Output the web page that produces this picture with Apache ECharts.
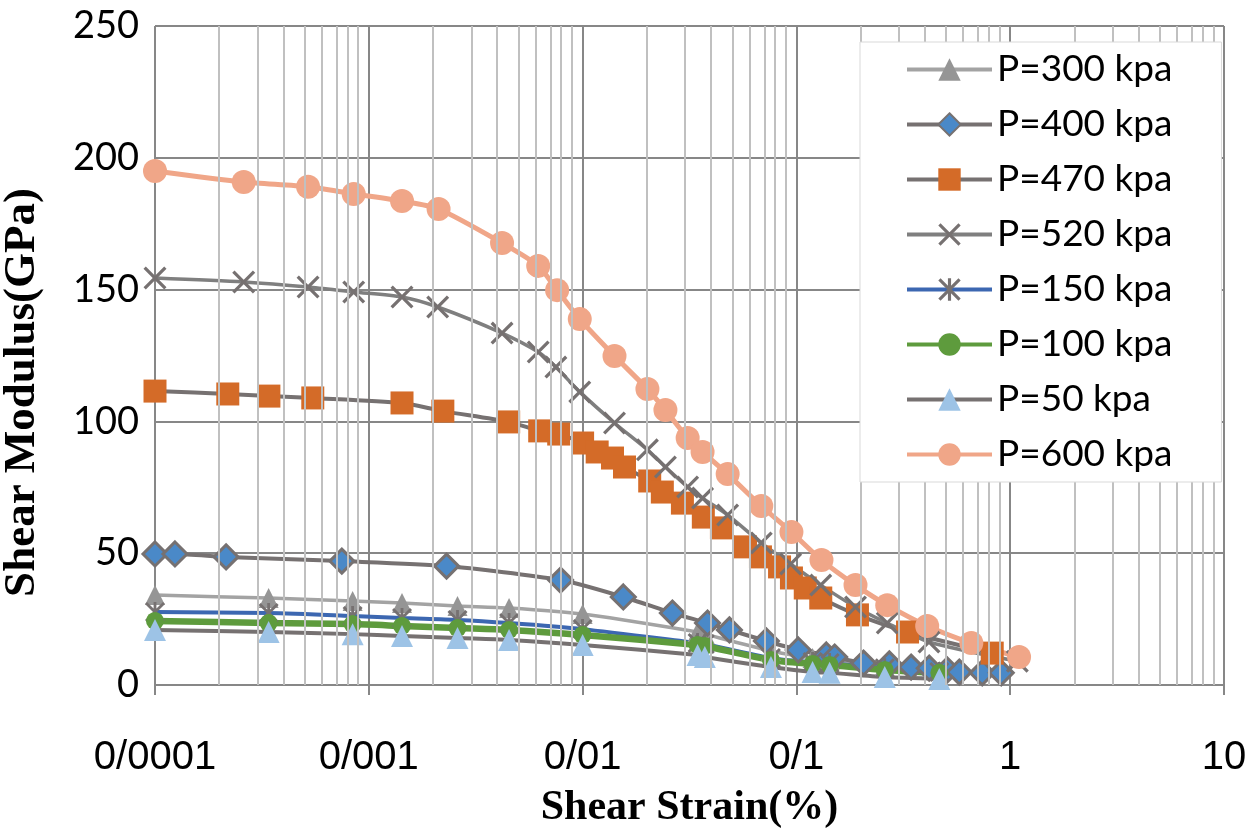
<!DOCTYPE html>
<html>
<head>
<meta charset="utf-8">
<script src="https://cdn.jsdelivr.net/npm/echarts@6/dist/echarts.min.js"></script>
<style>
  html, body { margin: 0; padding: 0; background: #fff; }
  #chart { width: 1260px; height: 829px; }
</style>
</head>
<body>
<div id="chart"></div>
<script>
// tick labels (original uses "/" as decimal separator)
var xTickLabels = ['0/0001', '0/001', '0/01', '0/1', '1', '10'];
var minorMultipliers = [2, 3, 4, 5, 6, 7, 8, 9];

// P=600
var strain600 = [0.0001, 0.00026, 0.00052, 0.00085, 0.00143, 0.00212, 0.0042, 0.0062, 0.0076, 0.0097, 0.0141, 0.0201, 0.0244, 0.031, 0.0364, 0.0477, 0.0685, 0.0948, 0.131, 0.189, 0.266, 0.409, 0.658, 1.10];
var g600 = [195, 190.8, 189, 186.3, 183.6, 180.6, 167.7, 159, 149.8, 138.8, 124.8, 112.3, 104.3, 93.7, 88.4, 80, 67.9, 58, 47.4, 37.9, 30.3, 22.4, 15.9, 10.6];

// P=520
var strain520 = [0.0001, 0.00026, 0.00052, 0.00085, 0.00143, 0.0021, 0.0042, 0.0062, 0.0075, 0.0097, 0.0141, 0.0201, 0.0244, 0.031, 0.0364, 0.0477, 0.0685, 0.094, 0.130, 0.189, 0.266, 0.417, 1.08];
var g520 = [154.4, 152.9, 151, 149.1, 147.2, 143.4, 133.5, 126.3, 120.6, 111.2, 99.4, 89.2, 82.7, 75.1, 70.9, 64.5, 53.9, 45.9, 37.9, 29.6, 23.5, 16.3, 9];

// P=470
var strain470 = [0.0001, 0.000219, 0.000341, 0.000547, 0.00143, 0.00222, 0.00451, 0.0063, 0.00773, 0.01, 0.0117, 0.0138, 0.0157, 0.0206, 0.0236, 0.0293, 0.0367, 0.0446, 0.0578, 0.0679, 0.0834, 0.0948, 0.110, 0.130, 0.193, 0.331, 0.824];
var g470 = [111.5, 110.4, 109.6, 108.9, 107, 103.9, 99.8, 96.4, 95.2, 91.8, 88.4, 86.1, 82.7, 77.4, 73.2, 69, 63.7, 59.6, 52.4, 48.6, 44.8, 40.6, 36.8, 33, 26.6, 20.1, 12.1];

// P=400
var strain400 = [0.0001, 0.000124, 0.000215, 0.000748, 0.00231, 0.00789, 0.0155, 0.0263, 0.0384, 0.0486, 0.0724, 0.102, 0.138, 0.151, 0.206, 0.272, 0.344, 0.418, 0.508, 0.578, 0.74, 0.908];
var g400 = [49.7, 49.7, 48.6, 47, 45.1, 39.8, 33.4, 27.3, 23.5, 20.9, 16.7, 13.3, 11.4, 10.6, 8.3, 8, 6.8, 6.4, 5.7, 4.9, 4.6, 4.6];

// low pressure tests share strain steps
var strainLow = [0.0001, 0.00034, 0.00084, 0.00143, 0.0026, 0.00453, 0.0100, 0.0345, 0.0373, 0.076, 0.119, 0.143, 0.259, 0.466];
var g300 = [34.1, 33, 31.9, 31.1, 30, 29.2, 26.9, 20.1, 19.3, 12.9, 10.2, 9.5, 7.2, 5.3];
var g150 = [27.7, 27.3, 26.2, 25.4, 24.7, 23.5, 21.2, 15.9, 15.6, 10.2, 8.7, 8.3, 6.4, 4.9];
var g100 = [24.3, 23.5, 23.1, 22.4, 21.6, 20.9, 19, 15.2, 14.8, 9.5, 8, 7.6, 5.7, 4.6];
var g50 = [20.9, 20.1, 19.3, 18.6, 17.8, 17.1, 15.2, 11.4, 10.6, 6.8, 4.9, 4.6, 3, 2.3];

function pairs(xs, ys) {
    return xs.map(function (x, i) { return [x, ys[i]]; });
}

var crossPath = 'path://M1,0 L5,4 L9,0 L10,1 L6,5 L10,9 L9,10 L5,6 L1,10 L0,9 L4,5 L0,1 Z';
var starPath = crossPath + ' M4.3,0 L5.7,0 L5.7,10 L4.3,10 Z';

// minor grid lines go on a hidden linear axis holding log10(strain)
var minorLines = [];
for (var d = -4; d <= 0; d++) {
    minorMultipliers.forEach(function (k) {
        minorLines.push({ xAxis: d + Math.log10(k) });
    });
}

function lineSeries(name, data, lineColor, lineWidth, symbol, size, itemStyle) {
    return {
        name: name,
        type: 'line',
        data: data,
        smooth: 0.25,
        symbol: symbol,
        symbolSize: size,
        showAllSymbol: true,
        lineStyle: { color: lineColor, width: lineWidth },
        itemStyle: itemStyle,
        emphasis: { disabled: true }
    };
}

var myChart = echarts.init(document.getElementById('chart'));
var option = {
    animation: false,
    backgroundColor: '#fff',
    grid: { left: 155, right: 36, top: 26, bottom: 144, containLabel: false, outerBoundsMode: 'none' },
    legend: {
        orient: 'vertical',
        left: 860,
        top: 42,
        padding: [9, 49, 9, 45],
        itemWidth: 85,
        itemHeight: 28,
        itemGap: 18,
        backgroundColor: '#fff',
        borderColor: '#d9d9d9',
        borderWidth: 1,
        lineStyle: { width: 4 },
        data: ['P=300 kpa', 'P=400 kpa', 'P=470 kpa', 'P=520 kpa', 'P=150 kpa', 'P=100 kpa', 'P=50 kpa', 'P=600 kpa'],
        textStyle: { fontFamily: 'Lato', fontSize: 37, color: '#000', lineHeight: 36 },
        z: 10
    },
    xAxis: [{
        type: 'log',
        logBase: 10,
        min: 0.0001,
        max: 10,
        name: 'Shear Strain(%)',
        nameLocation: 'middle',
        nameGap: 102,
        nameTextStyle: { fontFamily: 'Liberation Serif', fontWeight: 'bold', fontSize: 42, color: '#000' },
        axisLine: { show: true, lineStyle: { color: '#878787', width: 2 } },
        axisTick: { show: true, length: 10, lineStyle: { color: '#878787', width: 2 } },
        axisLabel: {
            margin: 53,
            fontFamily: 'Liberation Sans',
            fontSize: 40,
            color: '#000',
            formatter: function (v) { return xTickLabels[Math.round(Math.log10(v)) + 4]; }
        },
        splitLine: { show: true, lineStyle: { color: '#878787', width: 2 } },
        z: 3
    }, {
        type: 'value',
        min: -4,
        max: 1,
        show: false,
        splitLine: { show: false }
    }],
    yAxis: {
        type: 'value',
        min: 0,
        max: 250,
        interval: 50,
        name: 'Shear Modulus(GPa)',
        nameLocation: 'middle',
        nameGap: 110,
        nameTextStyle: { fontFamily: 'Liberation Serif', fontWeight: 'bold', fontSize: 45, color: '#000', padding: [0, 74, 0, 0] },
        axisLine: { show: true, lineStyle: { color: '#878787', width: 2 } },
        axisTick: { show: true, length: 10, lineStyle: { color: '#878787', width: 2 } },
        axisLabel: { margin: 16, fontFamily: 'Lato', fontSize: 38, color: '#000' },
        splitLine: { show: true, lineStyle: { color: '#878787', width: 2 } }
    },
    series: [
        {
            name: 'minor',
            type: 'line',
            xAxisIndex: 1,
            data: [],
            z: 0,
            silent: true,
            markLine: {
                silent: true,
                symbol: ['none', 'none'],
                label: { show: false },
                lineStyle: { type: 'solid', color: '#c0c0c0', width: 2 },
                emphasis: { disabled: true },
                data: minorLines
            }
        },
        lineSeries('P=300 kpa', pairs(strainLow, g300), '#a3a3a3', 3.5, 'triangle', 20, { color: '#959595' }),
        lineSeries('P=400 kpa', pairs(strain400, g400), '#767171', 4, 'diamond', 24, { color: '#4a89c8', borderColor: '#767171', borderWidth: 3 }),
        lineSeries('P=470 kpa', pairs(strain470, g470), '#767171', 4, 'rect', 23, { color: '#d46b28' }),
        lineSeries('P=520 kpa', pairs(strain520, g520), '#7f7f7f', 3.5, crossPath, 23, { color: '#767171' }),
        lineSeries('P=150 kpa', pairs(strainLow, g150), '#3c67b1', 4, starPath, 20, { color: '#767171' }),
        lineSeries('P=100 kpa', pairs(strainLow, g100), '#5e9b3d', 6.5, 'circle', 18, { color: '#5e9b3d' }),
        lineSeries('P=50 kpa', pairs(strainLow, g50), '#767171', 4, 'triangle', 22, { color: '#9dc3e6' }),
        lineSeries('P=600 kpa', pairs(strain600, g600), '#f0a688', 5, 'circle', 24, { color: '#f0a688' })
    ]
};
myChart.setOption(option);
</script>
</body>
</html>
